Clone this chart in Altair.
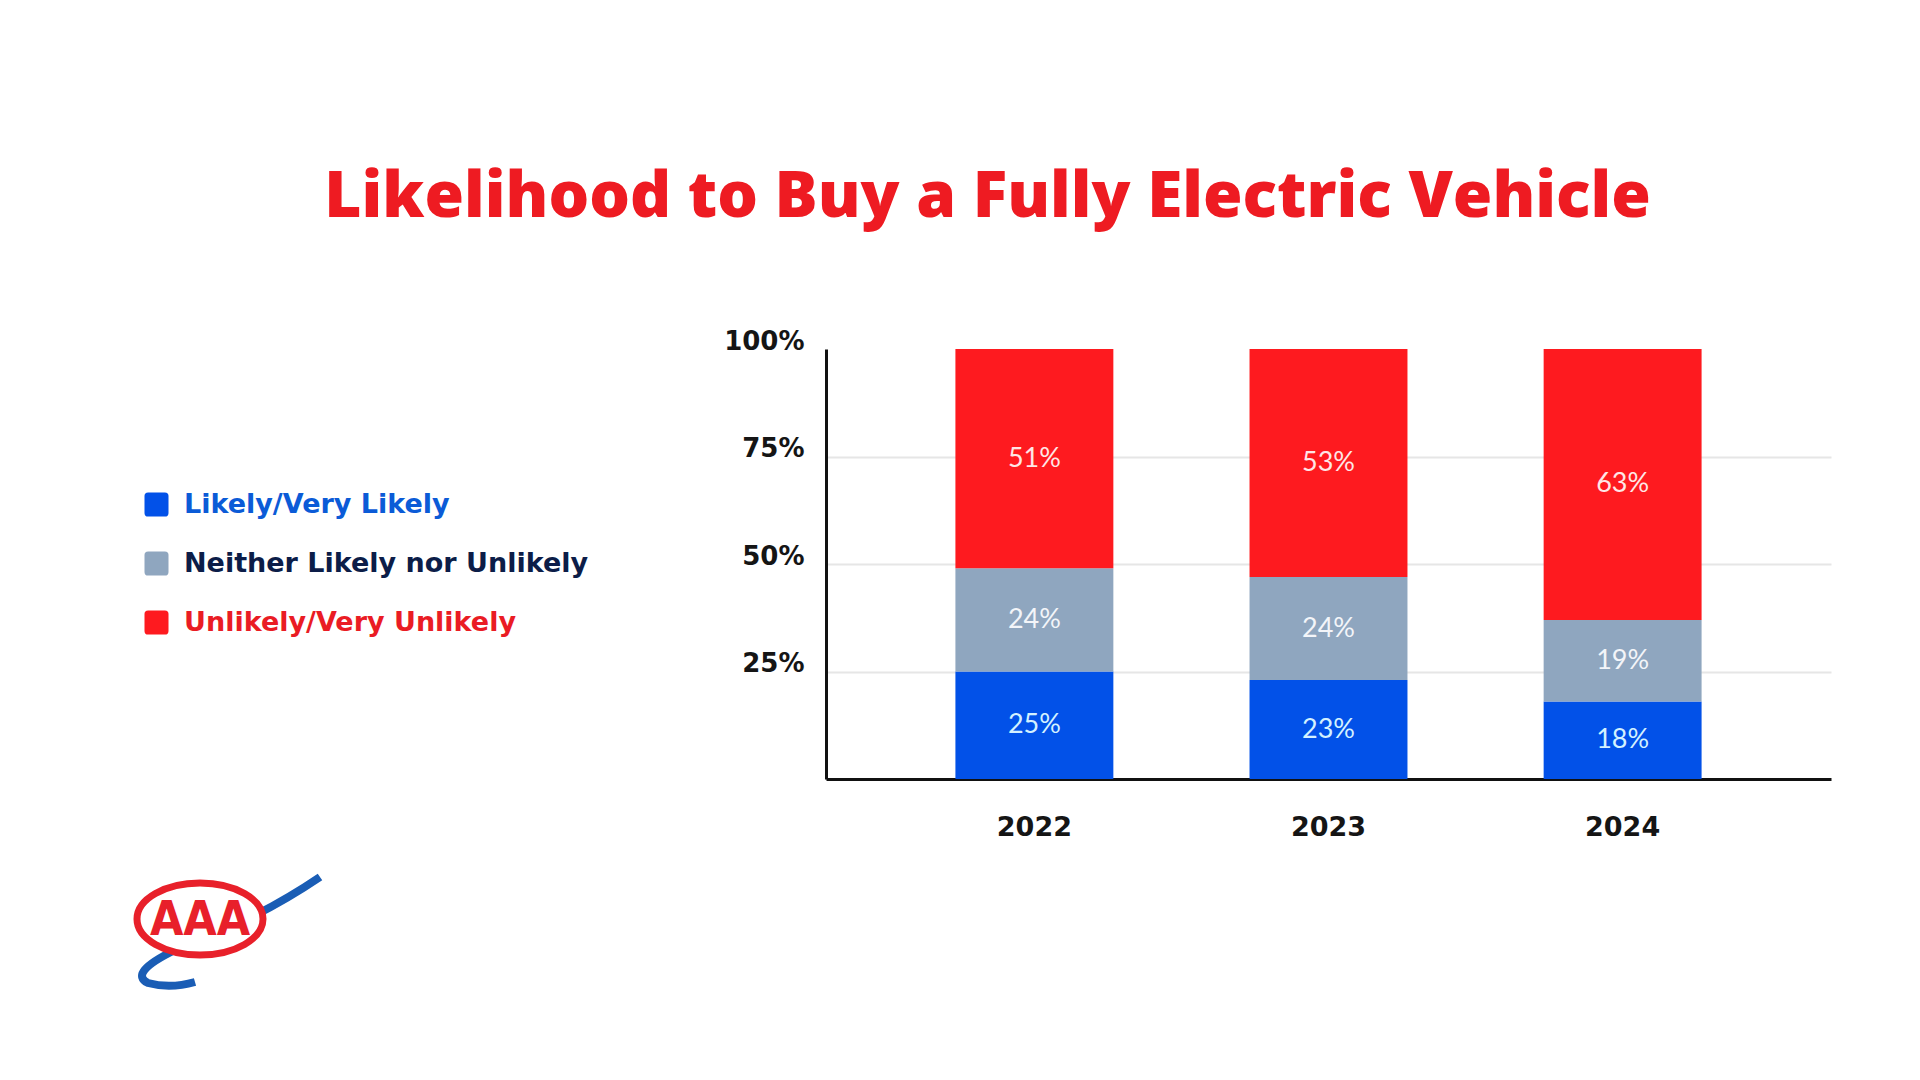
import altair as alt
import pandas as pd

# ---- data ----
years = ["2022", "2023", "2024"]
series = ["Likely/Very Likely", "Neither Likely nor Unlikely", "Unlikely/Very Unlikely"]
likely = [25, 23, 18]
neither = [24, 24, 19]
unlikely = [51, 53, 63]
y_ticks = [25, 50, 75, 100]

bar_colors = ["#0251e8", "#8fa6bf", "#fe1a1f"]
bar_text_colors = ["#d4f1ff", "#f3f5f9", "#ffe6e6"]
legend_label_colors = ["#0b5bd7", "#0c1d48", "#ea1c24"]

rows = []
for i, yr in enumerate(years):
    for k, (s, vals) in enumerate(zip(series, [likely, neither, unlikely])):
        rows.append({"year": yr, "series": s, "value": vals[i], "order": k})
df = pd.DataFrame(rows)

W, H = 1005, 430
FONT = "Lato"
WIDE = "DejaVu Sans"

label_color_expr = " : ".join(
    [f"datum.label == '{s}' ? '{c}'" for s, c in zip(series[:-1], legend_label_colors[:-1])]
) + f" : '{legend_label_colors[-1]}'"

rounded_square = ("M -0.7 -1 L 0.7 -1 Q 1 -1 1 -0.7 L 1 0.7 Q 1 1 0.7 1 L -0.7 1 "
                  "Q -1 1 -1 0.7 L -1 -0.7 Q -1 -1 -0.7 -1 Z")

x_enc = alt.X(
    "year:N", sort=years,
    scale=alt.Scale(paddingInner=0.463, paddingOuter=0.44),
    axis=alt.Axis(title=None, labelAngle=0, labelFontSize=27, labelFont=WIDE,
                  labelFontWeight="bold", labelColor="#151515", labelPadding=35,
                  ticks=False, domainColor="#111111", domainWidth=3),
)

y_axis = alt.Axis(
    title=None, values=y_ticks, labelExpr="datum.value + '%'", ticks=False,
    domainColor="#111111", domainWidth=3, labelFontSize=26, labelFont=WIDE,
    labelFontWeight="bold", labelColor="#151515", labelPadding=22, labelOffset=-8,
    grid=True, gridColor="#e6e6e6", gridWidth=2,
    gridOpacity={"condition": {"test": "datum.value >= 100", "value": 0}, "value": 1},
)

bars = alt.Chart(df).mark_bar().encode(
    x=x_enc,
    y=alt.Y("sum(value):Q", scale=alt.Scale(domain=[0, 100]), axis=y_axis, stack="zero"),
    color=alt.Color(
        "series:N", sort=series,
        scale=alt.Scale(domain=series, range=bar_colors),
        legend=alt.Legend(
            title=None, orient="none", legendX=-683, legendY=142, padding=0,
            symbolType=rounded_square, symbolSize=576, symbolStrokeWidth=0,
            symbolOpacity=1, labelFontSize=27, labelFont=WIDE, labelFontWeight="bold",
            labelColor={"expr": label_color_expr}, labelOffset=14, rowPadding=31,
            labelLimit=600,
        ),
    ),
    order=alt.Order("order:Q", sort="ascending"),
)

texts = alt.Chart(df).transform_stack(
    stack="value", groupby=["year"], sort=[alt.SortField("order", "ascending")], as_=["v0", "v1"]
).transform_calculate(
    mid="(datum.v0 + datum.v1) / 2", label="datum.value + '%'"
).mark_text(fontSize=27, font=FONT, fontWeight="normal", baseline="middle").encode(
    x=alt.X("year:N", sort=years),
    y=alt.Y("mid:Q"),
    text="label:N",
    color=alt.Color("series:N", scale=alt.Scale(domain=series, range=bar_text_colors), legend=None),
)

# ---- AAA logo (decoration) ----
logo_data = pd.DataFrame({"k": [0]})
LX, LY = -626, 570
swoosh = "M 1.2 -0.42 Q 0.55 0.02 -0.25 0.31 Q -0.72 0.54 -0.52 0.64 Q -0.3 0.7 -0.05 0.63"
oval = "M -0.63 0 A 0.63 0.36 0 1 0 0.63 0 A 0.63 0.36 0 1 0 -0.63 0 Z"
logo_swoosh = alt.Chart(logo_data).mark_point(
    shape=swoosh, size=40000, filled=False, stroke="#1a5db5", strokeWidth=8, opacity=1
).encode(x=alt.value(LX), y=alt.value(LY))
logo_oval = alt.Chart(logo_data).mark_point(
    shape=oval, size=40000, filled=True, fill="white", stroke="#e8202a", strokeWidth=7, opacity=1
).encode(x=alt.value(LX), y=alt.value(LY))
logo_text = alt.Chart(logo_data).mark_text(
    text="AAA", font="DejaVu Sans Condensed, Liberation Sans, sans-serif", fontSize=48,
    fontWeight="bold", color="#e8202a", baseline="middle", align="center", dy=2
).encode(x=alt.value(LX), y=alt.value(LY))

chart = alt.layer(bars, texts, logo_swoosh, logo_oval, logo_text).resolve_scale(
    color="independent"
).properties(
    width=W, height=H,
    autosize=alt.AutoSizeParams(type="none"),
    padding={"left": 818, "top": 341, "right": 60, "bottom": 270},
    title=alt.TitleParams(
        text="Likelihood to Buy a Fully Electric Vehicle", color="#ee1b22",
        fontSize=64, font="Open Sans", fontWeight=800, anchor="middle", frame="group",
        dx=-341, offset=47, baseline="alphabetic",
    ),
    background="white",
).configure_view(stroke=None)

chart.save("out.html", embed_options={"renderer": "svg", "actions": False})
